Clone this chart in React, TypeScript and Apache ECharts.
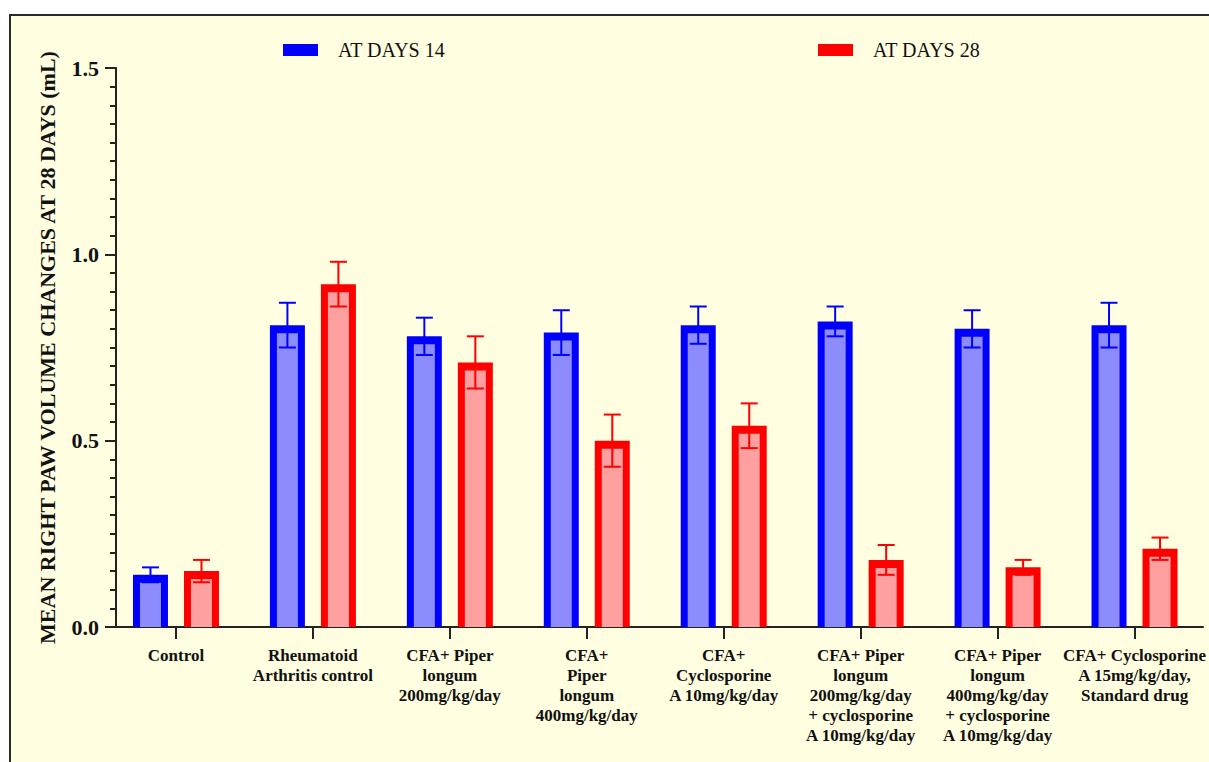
import React, { useEffect, useRef } from "react";
import * as echarts from "echarts";

const categories = [
  "Control",
  "Rheumatoid\nArthritis control",
  "CFA+ Piper\nlongum\n200mg/kg/day",
  "CFA+\nPiper\nlongum\n400mg/kg/day",
  "CFA+\nCyclosporine\nA 10mg/kg/day",
  "CFA+ Piper\nlongum\n200mg/kg/day\n+ cyclosporine\nA 10mg/kg/day",
  "CFA+ Piper\nlongum\n400mg/kg/day\n+ cyclosporine\nA 10mg/kg/day",
  "CFA+ Cyclosporine\nA 15mg/kg/day,\nStandard drug",
];
const seriesNames = ["AT DAYS 14", "AT DAYS 28"];
const days14 = [0.14, 0.81, 0.78, 0.79, 0.81, 0.82, 0.8, 0.81];
const days14Err = [0.02, 0.06, 0.05, 0.06, 0.05, 0.04, 0.05, 0.06];
const days28 = [0.15, 0.92, 0.71, 0.5, 0.54, 0.18, 0.16, 0.21];
const days28Err = [0.03, 0.06, 0.07, 0.07, 0.06, 0.04, 0.02, 0.03];
const yTicks = [0, 0.5, 1.0, 1.5];
const yTitle = "MEAN RIGHT PAW VOLUME CHANGES AT 28 DAYS (mL)";

const FONT = "Liberation Serif";
const BORDER = ["#0000FF", "#FF0000"];
const FILL = ["#8C8CFF", "#FFA0A0"];
const OFFSET = [-25.5, 25.5];
const BAR_W = 35;
const SIDE = 7;
const TOP = 8;
const CAP = 17;

function makeRender(si: number) {
  return (params: any, api: any) => {
    const idx = api.value(0);
    const val = api.value(1);
    const err = api.value(2);
    const c = api.coord([idx, val]);
    const b = api.coord([idx, 0]);
    const cx = c[0] + OFFSET[si];
    const top = c[1];
    const base = b[1];
    const hi = api.coord([idx, val + err])[1];
    const lo = api.coord([idx, val - err])[1];
    const col = BORDER[si];
    return {
      type: "group",
      children: [
        {
          type: "rect",
          shape: { x: cx - BAR_W / 2, y: top, width: BAR_W, height: base - top },
          style: { fill: col },
        },
        {
          type: "rect",
          shape: {
            x: cx - BAR_W / 2 + SIDE,
            y: top + TOP,
            width: BAR_W - 2 * SIDE,
            height: Math.max(0, base - top - TOP),
          },
          style: { fill: FILL[si] },
        },
        {
          type: "line",
          shape: { x1: cx, y1: hi, x2: cx, y2: lo },
          style: { stroke: col, lineWidth: 2 },
        },
        {
          type: "line",
          shape: { x1: cx - CAP / 2, y1: hi, x2: cx + CAP / 2, y2: hi },
          style: { stroke: col, lineWidth: 2 },
        },
        {
          type: "line",
          shape: { x1: cx - CAP / 2, y1: lo, x2: cx + CAP / 2, y2: lo },
          style: { stroke: col, lineWidth: 2 },
        },
      ],
    };
  };
}

export default function App() {
  const ref = useRef<HTMLDivElement>(null);
  useEffect(() => {
    if (!ref.current) return;
    const chart = echarts.init(ref.current, undefined, { renderer: "svg" });
    const d14 = days14.map((v, i) => [i, v, days14Err[i]]);
    const d28 = days28.map((v, i) => [i, v, days28Err[i]]);
    const mkLegend = (name: string, left: number) => ({
      top: 40,
      left,
      padding: 0,
      itemWidth: 35,
      itemHeight: 12,
      icon: "rect",
      data: [
        {
          name,
          textStyle: {
            fontFamily: FONT,
            fontSize: 20,
            fontWeight: "normal",
            color: "#111",
            padding: [0, 0, 0, 15],
          },
        },
      ],
      textStyle: {
        fontFamily: FONT,
        fontSize: 20,
        fontWeight: "normal",
        color: "#111",
        padding: [0, 0, 0, 15],
      },
    });
    chart.setOption({
      animation: false,
      backgroundColor: "#ffffff",
      textStyle: { fontFamily: FONT },
      graphic: {
        elements: [
          {
            type: "rect",
            z: -100,
            silent: true,
            shape: { x: 10, y: 15, width: 1220, height: 770 },
            style: { fill: "#FFFEE0", stroke: "#2a2a2a", lineWidth: 2 },
          },
        ],
      },
      legend: [mkLegend(seriesNames[0], 283), mkLegend(seriesNames[1], 818)],
      grid: { left: 107.5, right: 5.5, top: 68, bottom: 135, containLabel: false },
      xAxis: {
        type: "category",
        data: categories,
        axisLine: { show: true, lineStyle: { color: "#222", width: 2 } },
        axisTick: { show: true, alignWithLabel: true, length: 12, lineStyle: { color: "#222", width: 2 } },
        axisLabel: {
          interval: 0,
          hideOverlap: false,
          margin: 18,
          fontFamily: FONT,
          fontSize: 17,
          fontWeight: "bold",
          lineHeight: 20,
          color: "#111",
        },
        splitLine: { show: false },
      },
      yAxis: {
        type: "value",
        min: 0,
        max: 1.5,
        interval: 0.5,
        offset: -8.5,
        name: yTitle,
        nameLocation: "middle",
        nameRotate: 90,
        nameGap: 58,
        nameTextStyle: { fontFamily: FONT, fontSize: 22, fontWeight: "bold", color: "#111" },
        axisLine: { show: true, lineStyle: { color: "#222", width: 2 } },
        axisTick: { show: true, length: 11, lineStyle: { color: "#222", width: 2 } },
        minorTick: { show: true, splitNumber: 10, length: 6, lineStyle: { color: "#222", width: 2 } },
        axisLabel: {
          margin: 17,
          fontFamily: FONT,
          fontSize: 22,
          fontWeight: "bold",
          color: "#111",
          formatter: (v: number) => (yTicks.includes(v) ? v.toFixed(1) : ""),
        },
        splitLine: { show: false },
      },
      series: [
        {
          name: seriesNames[0],
          type: "custom",
          itemStyle: { color: BORDER[0] },
          renderItem: makeRender(0),
          encode: { x: 0, y: [1] },
          data: d14,
          z: 3,
        },
        {
          name: seriesNames[1],
          type: "custom",
          itemStyle: { color: BORDER[1] },
          renderItem: makeRender(1),
          encode: { x: 0, y: [1] },
          data: d28,
          z: 3,
        },
      ],
    });
    return () => chart.dispose();
  }, []);
  return (
    <div
      ref={ref}
      style={{ position: "absolute", left: 0, top: 0, width: 1209, height: 762 }}
    />
  );
}
